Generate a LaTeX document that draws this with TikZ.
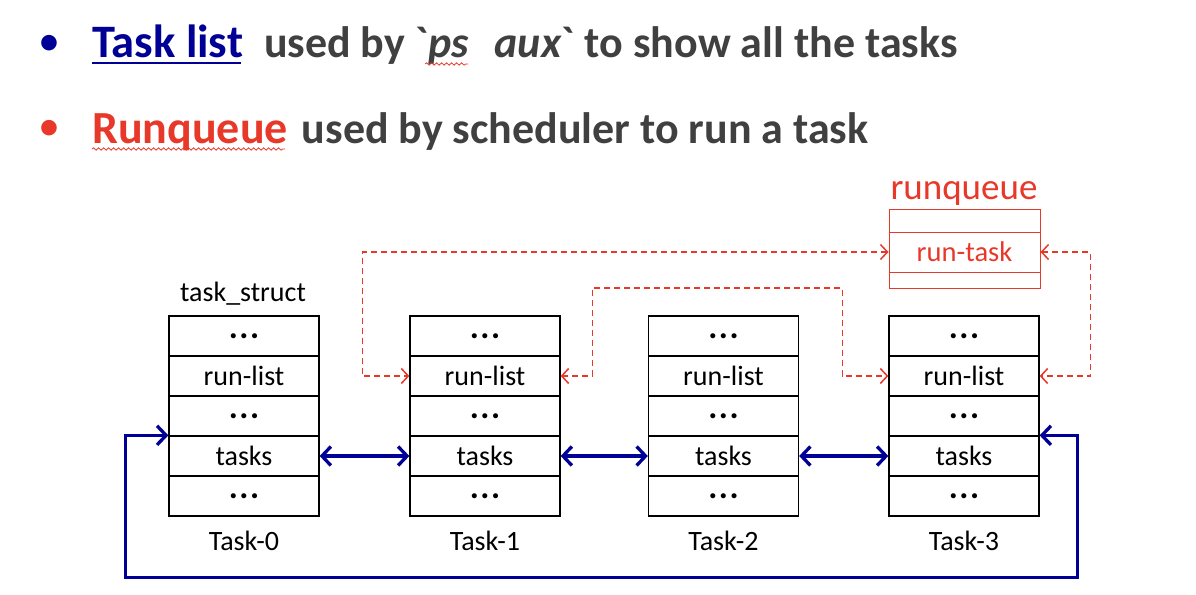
\documentclass[tikz,border=0pt]{standalone}
\usepackage{fontspec}
\setmainfont{Carlito}[Ligatures=TeXOff]
\usetikzlibrary{arrows.meta,decorations.pathmorphing,calc}
\definecolor{navy}{RGB}{0,0,150}
\definecolor{rqred}{RGB}{232,56,42}
\definecolor{txtgray}{RGB}{64,64,64}
\newcommand{\dotsx}{{\fontsize{34}{34}\selectfont\textbf{.\kern1.5pt.\kern1.5pt.}}}
\begin{document}
\begin{tikzpicture}[x=1pt,y=-1pt,
  cell/.style={draw=black, line width=1.3pt, minimum width=150pt, minimum height=40pt, inner sep=0pt, font=\fontsize{28}{28}\selectfont},
  rqcell/.style={draw=rqred, line width=1pt, minimum width=151pt, inner sep=0pt, text=rqred, font=\fontsize{28.5}{28}\selectfont},
  lbl/.style={font=\fontsize{28}{28}\selectfont, inner sep=0pt},
  redlink/.style={draw=rqred, line width=1.5pt, dash pattern=on 6pt off 4pt, {Straight Barb[length=7pt,width=15pt]}-{Straight Barb[length=7pt,width=15pt]}},
  bluelink/.style={draw=navy, line width=3.3pt, {Straight Barb[length=9pt,width=19pt]}-{Straight Barb[length=9pt,width=19pt]}},
  heading/.style={anchor=base west, inner sep=0pt, font=\fontsize{44}{44}\selectfont\bfseries, text=txtgray},
  bullet/.style={inner sep=0pt, font=\fontsize{44}{44}\selectfont},
  wavy/.style={draw=rqred, line width=0.8pt, decorate, decoration={snake, amplitude=1.2pt, segment length=5pt}}
]
\useasboundingbox (0,0) rectangle (1196,594);

% headings
\node[bullet, text=navy] (b1) at (49,45) {•};
\node[heading] (h1) at (92,58) {\textcolor{navy}{\fontsize{46.5}{46}\selectfont Task list}\hspace{21pt}used by `\textit{ps\hspace{26pt}aux}` to show all the tasks};
\node[bullet, text=rqred] (b2) at (49,130) {•};
\node[heading] (h2) at (92,143) {\textcolor{rqred}{\fontsize{46}{46}\selectfont Runqueue}\hspace{14pt}used by scheduler to run a task};
\draw[navy, line width=2pt] (92,63) -- (241,63);
\draw[wavy] (425,64) -- (468,64);
\draw[wavy] (92,149) -- (285,149);

% task structs
\foreach \i/\x in {0/244,1/485,2/723.5,3/964}{
  \node[cell] (t\i r1) at (\x,336) {\dotsx};
  \node[cell] (t\i r2) at (\x,376) {run-list};
  \node[cell] (t\i r3) at (\x,416) {\dotsx};
  \node[cell] (t\i r4) at (\x,456) {tasks};
  \node[cell] (t\i r5) at (\x,496) {\dotsx};
  \node[lbl] (t\i lab) at (\x,541) {Task-\i};
}
\node[lbl, anchor=base] (ts) at (243,301) {task\_struct};

% runqueue
\node[rqcell, minimum height=23pt] (rq1) at (964.5,220.5) {};
\node[rqcell, minimum height=40pt] (rq2) at (964.5,252) {run-task};
\node[rqcell, minimum height=16pt] (rq3) at (964.5,280) {};
\node[inner sep=0pt, anchor=base, font=\fontsize{37}{37}\selectfont, text=rqred] (rqt) at (964,199) {runqueue};

% red links
\draw[redlink] (rq2.west) -| ([xshift=-47pt]t1r2.west) -- (t1r2.west);
\draw[redlink] (t1r2.east) -- ++(32,0) -- ++(0,-88) -| ([xshift=-46pt]t3r2.west) -- (t3r2.west);
\draw[redlink] (rq2.east) -- ++(50,0) |- (t3r2.east);

% blue links
\draw[bluelink] (t0r4.east) -- (t1r4.west);
\draw[bluelink] (t1r4.east) -- (t2r4.west);
\draw[bluelink] (t2r4.east) -- (t3r4.west);
\draw[bluelink] (t3r4.north east) -- ++(38,0) -- ++(0,142) -| ([xshift=-43pt]t0r4.north west) -- (t0r4.north west);
\end{tikzpicture}
\end{document}
